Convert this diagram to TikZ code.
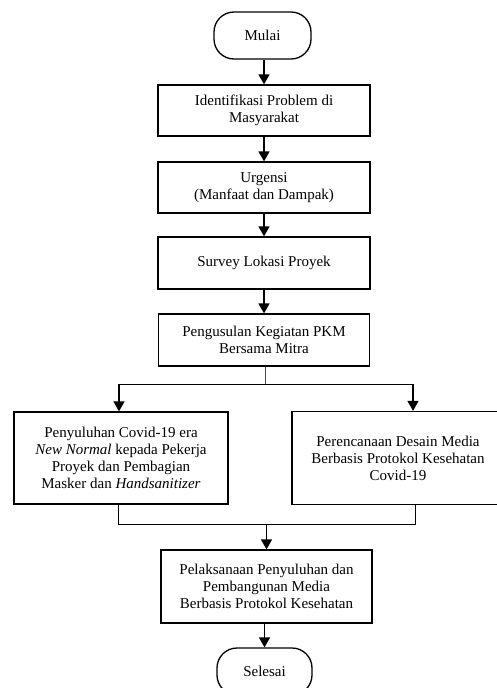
\documentclass[tikz,border=0pt]{standalone}
\usepackage{fontspec}
\setmainfont{Liberation Serif}
\usetikzlibrary{arrows.meta}
\begin{document}
\begin{tikzpicture}[x=1pt,y=-1pt,
  box/.style={draw, line width=1.3pt, rectangle, align=center,
    font=\fontsize{15}{17}\selectfont, inner sep=0pt},
  term/.style={box, rounded corners=20pt},
  arr/.style={line width=1.5pt, -{Triangle[length=10pt,width=11pt]}},
  ln/.style={line width=1pt}]
\useasboundingbox (0,0) rectangle (497,688);
\clip (0,0) rectangle (497,688);

\node[term, minimum width=97pt, minimum height=47pt] (mulai) at (262.5,35.5) {Mulai};
\node[box, minimum width=212pt, minimum height=51pt] (b1) at (264,110.5) {Identifikasi Problem di\\Masyarakat};
\node[box, minimum width=212pt, minimum height=51pt] (b2) at (264,187.5) {Urgensi\\(Manfaat dan Dampak)};
\node[box, minimum width=212pt, minimum height=52pt] (b3) at (264,263) {Survey Lokasi Proyek};
\node[box, minimum width=211pt, minimum height=52pt] (b4) at (264,340) {Pengusulan Kegiatan PKM\\Bersama Mitra};
\node[box, minimum width=214pt, minimum height=92pt] (bl) at (121,458) {Penyuluhan Covid-19 era\\\textit{New Normal} kepada Pekerja\\Proyek dan Pembagian\\Masker dan \textit{Handsanitizer}};
\node[box, minimum width=212pt, minimum height=93pt] (br) at (398,458) {Perencanaan Desain Media\\Berbasis Protokol Kesehatan\\Covid-19};
\node[box, minimum width=211pt, minimum height=73pt] (b5) at (266.5,586.5) {Pelaksanaan Penyuluhan dan\\Pembangunan Media\\Berbasis Protokol Kesehatan};
\node[term, minimum width=95pt, minimum height=47pt] (sel) at (264.5,671.5) {Selesai};

\draw[arr] (b1.north |- mulai.south) -- (b1.north);
\draw[arr] (b1.south) -- (b2.north);
\draw[arr] (b2.south) -- (b3.north);
\draw[arr] (b3.south) -- (b4.north);

\coordinate (split) at (265.5,384);
\coordinate (sl) at (119,384);
\coordinate (sr) at (413,384);
\draw[line width=0.8pt, black!70] (b4.south -| split) -- (split);
\draw[ln] (sl) -- (sr);
\draw[arr] (sl) -- (sl |- bl.north);
\draw[arr] (sr) -- (sr |- br.north);

\coordinate (jl) at (118,524);
\coordinate (jr) at (415,524);
\coordinate (jm) at (266.5,524);
\draw[ln] (jl |- bl.south) -- (jl) -- (jr) -- (jr |- br.south);
\draw[arr] (jm) -- (b5.north);
\draw[arr] (b5.south -| sel.north) -- (sel.north);
\end{tikzpicture}
\end{document}
